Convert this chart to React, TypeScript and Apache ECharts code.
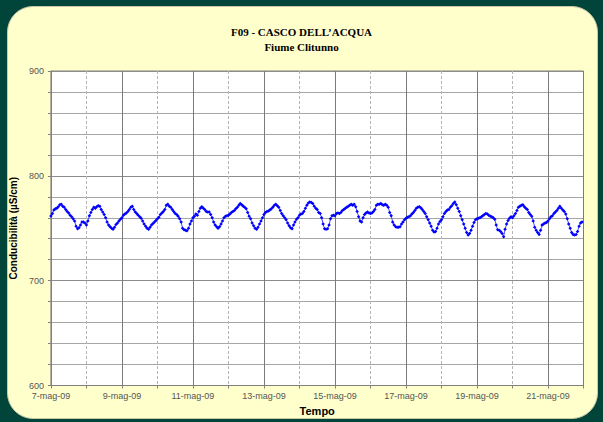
import React, { useEffect, useRef } from "react";
import * as echarts from "echarts";

// Hourly conductivity readings (µS/cm), one array per day, 00:00 .. 23:00
const may07 = [761.6, 764, 767.5, 768.5, 769, 770.5, 772.5, 773, 771, 770, 768, 766, 764.5, 762.5, 761, 759, 757, 752, 749.5, 750.5, 753, 756, 756, 755];
const may08 = [753, 757, 762, 765, 768, 770, 769, 770.5, 771.5, 771, 768, 765.5, 763, 760, 756, 753, 751.5, 750, 749, 751, 753.5, 755, 757, 758.5];
const may09 = [760, 762.5, 763.5, 764.5, 766, 768, 770, 771, 768, 765.5, 764, 762.5, 761, 759.5, 757, 754, 752, 750, 749, 751, 753, 754.5, 756, 757.5];
const may10 = [759, 760.5, 763, 764.5, 766, 768, 772, 773, 771, 770, 768, 766, 764, 763, 761.5, 759, 756, 750, 748.5, 748, 747.5, 750, 754, 757];
const may11 = [760, 761.5, 763.5, 762.5, 766, 769, 770.5, 769, 768, 766, 765.5, 765.5, 763, 760, 756, 753, 751.5, 750, 751.5, 754, 757, 760, 761.5, 762];
const may12 = [762.5, 763.5, 765, 766, 767, 768.5, 770, 772, 773.5, 772.5, 771, 770, 768.5, 765, 761.5, 759, 755, 752.5, 750, 749, 751, 754, 757, 760];
const may13 = [763, 765, 766, 766.5, 767.5, 768.5, 770, 772, 773, 771.5, 770, 767, 764, 762, 760, 758, 755, 752.5, 750.5, 749.5, 753, 756, 758.5, 760];
const may14 = [762.5, 763.5, 764, 766, 769, 772, 774, 775, 774.5, 773.5, 771, 769, 768, 765, 764, 760, 754, 749.5, 749, 749.5, 753, 759, 762, 762.5];
const may15 = [762, 764, 764.5, 764, 765, 767, 768, 769, 770, 771, 772, 773, 772, 773, 770.5, 766, 761, 757, 756, 760, 763, 764.5, 765.5, 764.5];
const may16 = [764, 764.5, 766, 768, 772, 773, 773, 773.5, 772.5, 772, 773, 772, 770, 765, 762, 756, 753, 751.5, 751, 751, 751.5, 754, 756, 758];
const may17 = [759.5, 760.5, 761, 762, 763.5, 765, 767, 769, 770, 770.5, 769.5, 768, 766, 764, 761, 758, 755, 752, 748, 746.5, 747, 750, 754, 756.5];
const may18 = [758, 761, 764, 766, 767.5, 768, 770, 771.5, 773.5, 775, 772.5, 769, 766, 762, 758, 754, 750, 746, 743.5, 745, 748, 752, 755.5, 758];
const may19 = [759, 759.5, 760, 761, 762, 763, 764, 763.5, 762.5, 761.5, 761, 760, 758.5, 753, 748.5, 748, 747, 745, 742, 749, 754, 757.5, 759.5, 761];
const may20 = [760, 762, 764, 767, 770, 771, 772, 772.5, 770.5, 769, 768, 765, 763, 761.5, 757, 751, 748, 746, 744, 748, 753, 754, 755, 755.5];
const may21 = [757, 759, 761, 762, 764, 765.5, 767, 769, 771, 769, 767.5, 766, 763.5, 759, 754, 750, 746, 744, 743.5, 744, 747, 752, 755, 756];

const days = [may07, may08, may09, may10, may11, may12, may13, may14, may15, may16, may17, may18, may19, may20, may21];
const firstDay = 7; // 7-mag-09
const monthLabel = "mag-09";
const yTicks = { min: 600, max: 900, interval: 100 };

const titleText = "F09 - CASCO DELL\u2019ACQUA";
const subtitleText = "Fiume Clitunno";
const yName = "Conducibilit\u00e0 (\u00b5S/cm)";
const xName = "Tempo";

export default function App() {
  const ref = useRef<HTMLDivElement>(null);

  useEffect(() => {
    if (!ref.current) return;
    const chart = echarts.init(ref.current, undefined, { renderer: "svg" });
    const points: [number, number][] = [];
    days.forEach((day, d) => day.forEach((v, h) => points.push([d * 24 + h, v])));

    chart.setOption({
      animation: false,
      backgroundColor: "transparent",
      title: [
        {
          text: titleText,
          left: "center",
          top: 21,
          textStyle: { fontFamily: "Liberation Serif", fontWeight: "bold", fontSize: 11, color: "#000" },
        },
        {
          text: subtitleText,
          left: "center",
          top: 36,
          textStyle: { fontFamily: "Liberation Serif", fontWeight: "bold", fontSize: 11, color: "#000" },
        },
      ],
      grid: {
        left: 45,
        right: 19.5,
        top: 71,
        bottom: 36.5,
        show: true,
        backgroundColor: "#ffffff",
        borderColor: "#808080",
        borderWidth: 1,
      },
      xAxis: {
        type: "value",
        min: 0,
        max: days.length * 24,
        interval: 48,
        name: xName,
        nameLocation: "middle",
        nameGap: 19,
        nameTextStyle: { fontFamily: "Liberation Sans", fontWeight: "bold", fontSize: 11, color: "#000" },
        axisLine: { show: true, lineStyle: { color: "#808080", width: 1 } },
        axisTick: { show: true, length: 3, lineStyle: { color: "#808080" } },
        minorTick: { show: true, splitNumber: 2, length: 3, lineStyle: { color: "#808080" } },
        axisLabel: {
          margin: 6,
          fontFamily: "Liberation Sans",
          fontSize: 9,
          color: "#555",
          showMaxLabel: false,
          formatter: (v: number) => `${firstDay + Math.round(v / 24)}-${monthLabel}`,
        },
        splitLine: { show: true, lineStyle: { color: "#7a7a7a", width: 1 } },
        minorSplitLine: { show: true, lineStyle: { color: "#b4b4b4", width: 1, type: [3, 2] } },
      },
      yAxis: {
        type: "value",
        min: yTicks.min,
        max: yTicks.max,
        interval: yTicks.interval,
        name: yName,
        nameLocation: "middle",
        nameGap: 23,
        nameTextStyle: { fontFamily: "Liberation Sans", fontWeight: "bold", fontSize: 10, color: "#000" },
        axisLine: { show: true, lineStyle: { color: "#808080", width: 1 } },
        axisTick: { show: true, length: 3, lineStyle: { color: "#808080" } },
        minorTick: { show: true, splitNumber: 5, length: 3, lineStyle: { color: "#808080" } },
        axisLabel: { margin: 7, fontFamily: "Liberation Sans", fontSize: 9, color: "#555" },
        splitLine: { show: true, lineStyle: { color: "#8c8c8c", width: 1 } },
        minorSplitLine: { show: true, lineStyle: { color: "#a6a6a6", width: 1 } },
      },
      series: [
        {
          type: "line",
          data: points,
          showSymbol: true,
          symbol: "diamond",
          symbolSize: 3.5,
          lineStyle: { color: "#4a4aff", width: 1 },
          itemStyle: { color: "#0000ff" },
          silent: true,
        },
      ],
    });
    return () => chart.dispose();
  }, []);

  return (
    <div style={{ position: "fixed", left: 0, top: 0, width: 603, height: 422, background: "#00443a", overflow: "hidden" }}>
      <div
        style={{
          position: "absolute",
          left: 7,
          top: 6,
          width: 589,
          height: 411,
          borderRadius: 26,
          background: "#ffffcc",
          border: "1px solid #c9c9a8",
        }}
      />
      <div ref={ref} style={{ position: "absolute", left: 0, top: 0, width: 603, height: 422 }} />
    </div>
  );
}
